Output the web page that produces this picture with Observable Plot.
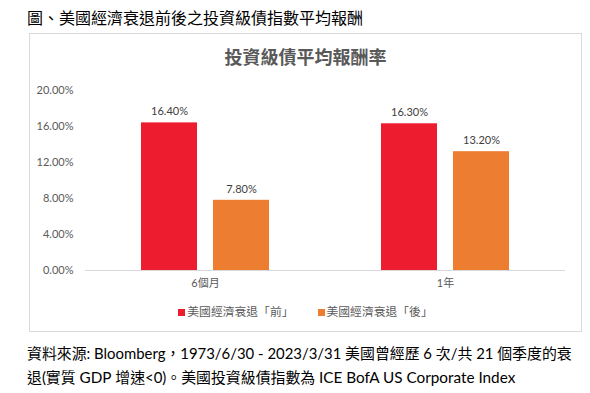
<!DOCTYPE html>
<html><head><meta charset="utf-8">
<script src="https://cdn.jsdelivr.net/npm/d3@7"></script>
<script src="https://cdn.jsdelivr.net/npm/@observablehq/plot@0.6"></script>
<style>
body{margin:0;background:#fff;width:590px;height:393px;position:relative;overflow:hidden;font-family:"Noto Sans CJK TC",sans-serif;}
#top{position:absolute;left:27px;top:5px;font-size:16px;line-height:24px;font-weight:400;color:#000;white-space:nowrap;}
#box{position:absolute;left:29px;top:33px;width:551px;height:297px;border:1px solid #d9d9d9;}
#ctitle{position:absolute;left:0;width:100%;top:9px;line-height:26px;text-align:center;font-size:18px;font-weight:bold;color:#595959;}
#chart{position:absolute;left:0;top:41px;}
#legend{position:absolute;left:0;width:100%;top:268px;text-align:center;font-size:11.8px;color:#595959;white-space:nowrap;}
#legend span.sw{display:inline-block;width:7px;height:7px;margin-right:2px;vertical-align:0px;}
#legend span.it{margin:0 12px;}
#cap{position:absolute;left:27px;top:341px;font-size:14.9px;line-height:24px;color:#000;white-space:nowrap;font-family:Lato,"Noto Sans CJK TC",sans-serif;}
.lat{font-size:15.3px;}
</style></head><body>
<div id="top">圖、美國經濟衰退前後之投資級債指數平均報酬</div>
<div id="box">
<div id="ctitle">投資級債平均報酬率</div>
<div id="chart"></div>
<div id="legend"></div>
</div>
<div id="cap">資料來源: Bloomberg，1973/6/30 - 2023/3/31 美國曾經歷 6 次/共 21 個季度的衰<br>退(實質 <span class="lat">GDP</span> 增速&lt;0)。美國投資級債指數為 <span class="lat">ICE BofA US Corporate Index</span></div>
<script>
const periods = ["6個月", "1年"];
const seriesNames = ["美國經濟衰退「前」", "美國經濟衰退「後」"];
const beforeValues = [16.4, 16.3];
const afterValues = [7.8, 13.2];
const colors = ["#ED1C2E", "#ED7D31"];
const yTicks = [0, 4, 8, 12, 16, 20];

const data = [];
periods.forEach((p, i) => {
  data.push({period: p, series: seriesNames[0], value: beforeValues[i]});
  data.push({period: p, series: seriesNames[1], value: afterValues[i]});
});

const chart = Plot.plot({
  width: 551,
  height: 220,
  marginLeft: 54,
  marginRight: 16,
  marginTop: 15,
  marginBottom: 25,
  style: {fontFamily: "Lato, 'Noto Sans CJK TC', sans-serif", fontSize: "11px", color: "#595959", background: "transparent"},
  fx: {domain: periods, padding: 0, label: null, tickSize: 0, tickPadding: 9, axis: "bottom"},
  x: {domain: seriesNames, paddingInner: 0.22, paddingOuter: 0.765, axis: null},
  y: {domain: [0, 20], ticks: yTicks, tickFormat: d => d.toFixed(2) + "%", label: null, tickSize: 0, tickPadding: 12},
  color: {domain: seriesNames, range: colors},
  marks: [
    Plot.barY(data, {fx: "period", x: "series", y: "value", fill: "series"}),
    Plot.ruleY([0], {stroke: "#d9d9d9"}),
    Plot.text(data, {fx: "period", x: "series", y: "value", text: d => d.value.toFixed(2) + "%", dy: -11, fill: "#404040", fontSize: 11})
  ]
});
document.getElementById("chart").appendChild(chart);

const lg = document.getElementById("legend");
seriesNames.forEach((s, i) => {
  const it = document.createElement("span");
  it.className = "it";
  it.innerHTML = `<span class="sw" style="background:${colors[i]}"></span>${s}`;
  lg.appendChild(it);
});
</script>
</body></html>
